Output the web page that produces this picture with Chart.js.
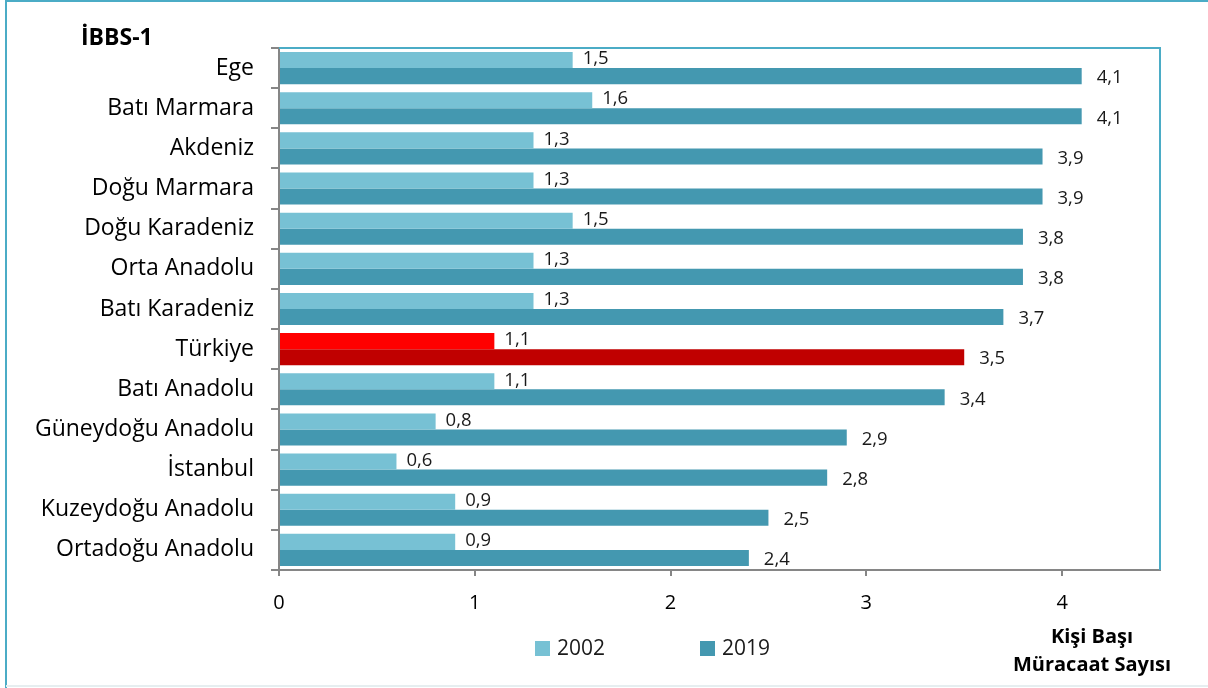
<!DOCTYPE html>
<html>
<head>
<meta charset="utf-8">
<script src="https://cdn.jsdelivr.net/npm/chart.js@4.4.0/dist/chart.umd.min.js"></script>
<style>
html,body{margin:0;padding:0;background:#fff;}
#wrap{position:relative;width:1208px;height:688px;}
</style>
</head>
<body>
<div id="wrap"><canvas id="c" width="1208" height="688"></canvas></div>
<script>
const categories = ["Ege","Batı Marmara","Akdeniz","Doğu Marmara","Doğu Karadeniz","Orta Anadolu","Batı Karadeniz","Türkiye","Batı Anadolu","Güneydoğu Anadolu","İstanbul","Kuzeydoğu Anadolu","Ortadoğu Anadolu"];
const values2002 = [1.5,1.6,1.3,1.3,1.5,1.3,1.3,1.1,1.1,0.8,0.6,0.9,0.9];
const values2019 = [4.1,4.1,3.9,3.9,3.8,3.8,3.7,3.5,3.4,2.9,2.8,2.5,2.4];
const seriesNames = ["2002","2019"];
const xTickValues = [0,1,2,3,4];
const highlight = "Türkiye";

const C2002 = "#77c1d4", C2019 = "#4498b0";
const H2002 = "#ff0000", H2019 = "#c00000";
const col = (base, hi) => categories.map(c => c === highlight ? hi : base);

const FONT = "'Open Sans', sans-serif";

const decor = {
  id: 'decor',
  afterDraw(chart) {
    const ctx = chart.ctx, a = chart.chartArea;
    ctx.save();
    // outer frame
    ctx.strokeStyle = "#4bacc6"; ctx.lineWidth = 2;
    ctx.beginPath(); ctx.moveTo(6, 688); ctx.lineTo(6, 1); ctx.lineTo(1208, 1); ctx.stroke();
    ctx.strokeStyle = "#e6eef0"; ctx.lineWidth = 2;
    ctx.beginPath(); ctx.moveTo(6, 686); ctx.lineTo(1208, 686); ctx.stroke();
    // plot area top/right border
    ctx.strokeStyle = "#4bacc6"; ctx.lineWidth = 2;
    ctx.beginPath(); ctx.moveTo(a.left, a.top); ctx.lineTo(a.right, a.top); ctx.lineTo(a.right, a.bottom); ctx.stroke();
    // data labels
    ctx.fillStyle = "#1a1a1a"; ctx.font = "18.5px " + FONT; ctx.textBaseline = "middle"; ctx.textAlign = "left";
    chart.data.datasets.forEach((ds, di) => {
      const meta = chart.getDatasetMeta(di);
      meta.data.forEach((bar, i) => {
        const txt = ds.data[i].toFixed(1).replace('.', ',');
        ctx.fillText(txt, bar.x + (di === 0 ? 10 : 15), bar.y + (di === 0 ? -1 : 2));
      });
    });
    // title
    ctx.font = "bold 23px " + FONT; ctx.fillStyle = "#000"; ctx.textBaseline = "middle";
    ctx.fillText("İBBS-1", 81, 38);
    // legend
    ctx.font = "21px " + FONT; ctx.textBaseline = "middle";
    const items = [[535, C2002, seriesNames[0]], [700, C2019, seriesNames[1]]];
    items.forEach(([x, c, t]) => {
      ctx.fillStyle = c; ctx.fillRect(x, 641, 15, 15);
      ctx.fillStyle = "#1a1a1a"; ctx.fillText(t, x + 22, 649);
    });
    // axis title
    ctx.font = "bold 20px " + FONT; ctx.fillStyle = "#000"; ctx.textAlign = "center";
    ctx.fillText("Kişi Başı", 1092, 637);
    ctx.fillText("Müracaat Sayısı", 1092, 665);
    ctx.restore();
  }
};

new Chart(document.getElementById('c'), {
  type: 'bar',
  data: {
    labels: categories,
    datasets: [
      { label: seriesNames[0], data: values2002, backgroundColor: col(C2002, H2002), categoryPercentage: 0.8, barPercentage: 1.0 },
      { label: seriesNames[1], data: values2019, backgroundColor: col(C2019, H2019), categoryPercentage: 0.8, barPercentage: 1.0 }
    ]
  },
  options: {
    indexAxis: 'y',
    responsive: false,
    animation: false,
    layout: { padding: { left: 0, right: 48, top: 48, bottom: 0 } },
    plugins: { legend: { display: false }, tooltip: { enabled: false } },
    scales: {
      x: {
        min: 0, max: 4.5,
        afterBuildTicks: s => { s.ticks = xTickValues.map(v => ({ value: v })); },
        afterFit: s => { s.height = 118; },
        grid: { drawOnChartArea: false, drawTicks: true, tickLength: 6, color: "#868686", lineWidth: 2 },
        border: { color: "#868686", width: 2 },
        ticks: { color: "#000", font: { family: FONT, size: 20 }, padding: 15 }
      },
      y: {
        afterFit: s => { s.width = 279; },
        grid: { drawOnChartArea: false, offset: true, tickLength: 8, color: "#868686", lineWidth: 2 },
        border: { color: "#868686", width: 2 },
        ticks: { color: "#000", font: { family: FONT, size: 23 }, padding: 17 }
      }
    }
  },
  plugins: [decor]
});
</script>
</body>
</html>
